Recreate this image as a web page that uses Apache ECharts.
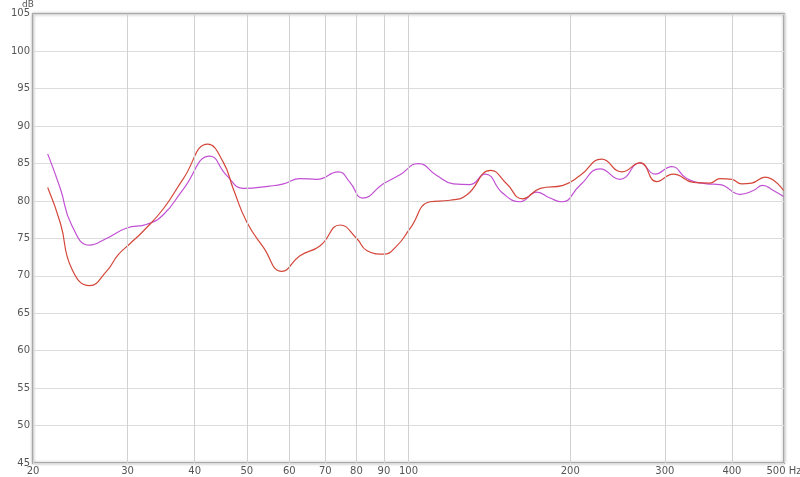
<!DOCTYPE html>
<html>
<head>
<meta charset="utf-8">
<script src="https://cdn.jsdelivr.net/npm/echarts@6/dist/echarts.min.js"></script>
<style>html,body{margin:0;padding:0;background:#fff;}#c{width:800px;height:477px;}</style>
</head>
<body>
<div id="c"></div>
<script>
// Frequency (Hz) / level (dB) pairs
const redFreq = [21.3,22.5,23.6,25.5,27.4,28.8,30.3,32.0,35.0,38.1,42.3,45.2,47.2,50.0,53.7,58.1,62.8,68.4,74.6,80.1,83.6,89.8,95.1,100.6,109.7,119.5,128.3,142.3,152.3,163.0,176.0,194.0,208.6,228.9,249.4,269.8,289.8,311.1,339.0,364.2,380.1,399.6,417.1,435.4,461.0,499.0];
const redDb   = [81.8,77.0,71.0,68.7,70.6,72.8,74.3,75.9,79.0,83.0,87.6,85.2,81.6,77.2,73.8,70.6,72.7,74.0,76.8,75.0,73.4,72.9,74.0,76.3,79.9,80.1,80.8,84.1,82.3,80.3,81.7,82.1,83.4,85.6,83.9,85.1,82.6,83.6,82.5,82.4,83.0,82.9,82.3,82.4,83.2,81.4];
const purpleFreq = [21.3,22.5,23.6,25.5,27.4,29.9,32.6,35.0,38.1,42.7,45.9,49.3,55.2,58.5,62.8,67.5,74.0,77.8,82.2,89.8,96.4,104.3,112.9,121.2,130.2,138.8,150.0,161.3,173.3,183.4,192.9,208.6,227.3,247.6,269.8,287.7,309.0,329.6,359.0,380.1,414.1,438.4,456.4,477.7,499.0];
const purpleDb   = [86.3,81.6,76.8,74.1,75.0,76.4,76.9,78.2,81.6,86.0,83.4,81.7,82.0,82.3,83.0,82.9,83.9,82.5,80.4,82.3,83.5,85.0,83.4,82.3,82.2,83.6,81.0,79.9,81.2,80.4,79.9,82.1,84.3,82.9,85.1,83.6,84.6,83.0,82.3,82.2,80.9,81.4,82.1,81.4,80.6];
const freqTicks = [20,30,40,50,60,70,80,90,100,200,300,400,500];
const freqTickLabels = ['20','30','40','50','60','70','80','90','100','200','300','400','500 Hz'];

const zip = (a,b) => a.map((v,i)=>[v,b[i]]);
const chart = echarts.init(document.getElementById('c'), null, {renderer:'canvas'});
chart.setOption({
  animation:false,
  backgroundColor:'#fff',
  grid:{left:33,right:16,top:10,bottom:14,show:true,borderColor:'#a8a8a8',borderWidth:2,
        backgroundColor:'#fff',shadowColor:'rgba(0,0,0,0.25)',shadowBlur:3},
  xAxis:{type:'log',logBase:10,min:20,max:500,
    axisLine:{show:false},axisTick:{show:false},axisLabel:{show:false},splitLine:{show:false},minorSplitLine:{show:false}},
  yAxis:{type:'value',min:45,max:105,interval:5,
    name:'dB',nameLocation:'end',nameGap:1,
    nameTextStyle:{color:'#555',fontSize:9,fontFamily:'DejaVu Sans',align:'right',padding:[0,-1,0,0]},
    axisLine:{show:false},axisTick:{show:false},
    axisLabel:{color:'#555',fontSize:10,fontFamily:'DejaVu Sans',margin:3},
    splitLine:{lineStyle:{color:'#dcdcdc',width:1}}},
  series:[
    {type:'line',data:zip(purpleFreq,purpleDb),smooth:0.5,symbol:'none',
     lineStyle:{color:'#c150d3',width:1.2},z:3,
     markLine:{silent:true,symbol:'none',
       lineStyle:{color:'#d2d2d2',width:1,type:'solid'},
       label:{position:'start',color:'#555',fontSize:10,fontFamily:'DejaVu Sans',distance:3,
         formatter:p=>freqTickLabels[freqTicks.indexOf(p.value)]},
       data:freqTicks.map(f=>({xAxis:f}))}},
    {type:'line',data:zip(redFreq,redDb),smooth:0.5,symbol:'none',
     lineStyle:{color:'#d4473a',width:1.2},z:4}
  ]
});
</script>
</body>
</html>
